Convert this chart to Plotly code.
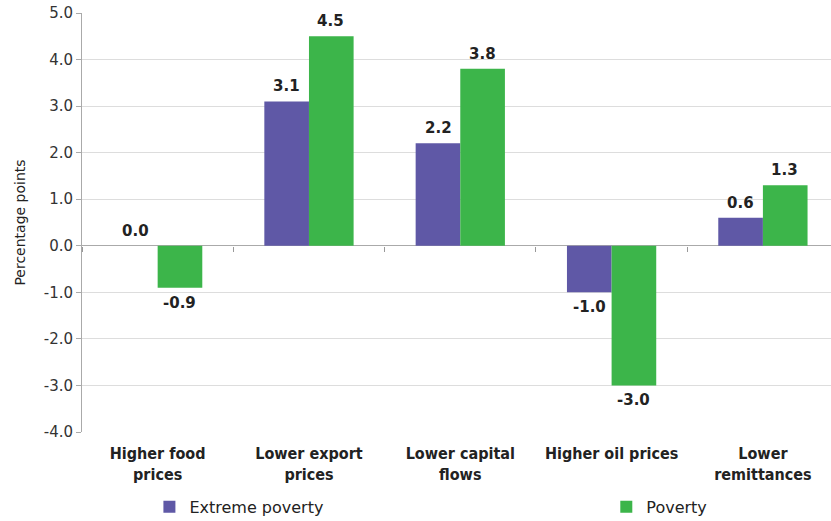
import plotly.graph_objects as go

categories = ["Higher food<br>prices", "Lower export<br>prices", "Lower capital<br>flows",
              "Higher oil prices", "Lower<br>remittances"]
extreme_poverty = [0.0, 3.1, 2.2, -1.0, 0.6]
poverty = [-0.9, 4.5, 3.8, -3.0, 1.3]
y_ticks = [5, 4, 3, 2, 1, 0, -1, -2, -3, -4]
y_tick_labels = ["5.0", "4.0", "3.0", "2.0", "1.0", "0.0", "-1.0", "-2.0", "-3.0", "-4.0"]

PURPLE = "#5F58A6"
GREEN = "#3CB54A"

fig = go.Figure()
fig.add_trace(go.Bar(name="Extreme poverty", x=categories, y=extreme_poverty,
                     marker=dict(color=PURPLE, line=dict(width=0)), legend="legend"))
fig.add_trace(go.Bar(name="Poverty", x=categories, y=poverty,
                     marker=dict(color=GREEN, line=dict(width=0)), legend="legend2"))
# invisible trace to carry the zero-crossing tick axis
fig.add_trace(go.Scatter(x=categories, y=[0] * len(categories), xaxis="x2",
                         mode="markers", marker=dict(opacity=0), showlegend=False,
                         hoverinfo="skip"))

annotations = []
for series, shift in ((extreme_poverty, -22), (poverty, 22)):
    for c, v in zip(categories, series):
        annotations.append(dict(
            x=c, y=v, xref="x", yref="y", text=f"{v:.1f}", showarrow=False,
            xshift=shift, yshift=(15 if v >= 0 else -15), yanchor="middle",
            font=dict(family="DejaVu Sans", size=15, color="#222222", weight="bold")))

legend_font = dict(family="DejaVu Sans", size=16, color="#222222")

fig.update_layout(
    width=831, height=521,
    margin=dict(l=82, r=0, t=13, b=89, autoexpand=False),
    paper_bgcolor="white", plot_bgcolor="white",
    barmode="group", bargap=0.41, bargroupgap=0,
    annotations=annotations,
    showlegend=True,
    legend=dict(orientation="h", x=0.09, y=-0.138, xanchor="left", yanchor="top",
                font=legend_font, itemclick=False, bgcolor="rgba(0,0,0,0)"),
    legend2=dict(orientation="h", x=0.7, y=-0.138, xanchor="left", yanchor="top",
                 font=legend_font, itemclick=False, bgcolor="rgba(0,0,0,0)"),
    xaxis=dict(type="category", range=[-0.5, 4.45], showgrid=False, showline=False,
               ticks="", ticklabelstandoff=10, automargin=False,
               tickfont=dict(family="DejaVu Sans Condensed", size=16, color="#222222",
                             weight="bold")),
    xaxis2=dict(type="category", overlaying="x", anchor="free", position=4 / 9,
                range=[-0.5, 4.45], showgrid=False, showline=False, showticklabels=False,
                ticks="outside", tickson="boundaries", ticklen=5, tickcolor="#999999",
                tickwidth=1, automargin=False),
    yaxis=dict(range=[-4, 5], tickvals=y_ticks, ticktext=y_tick_labels,
               showgrid=True, gridcolor="#dddddd", gridwidth=1,
               zeroline=True, zerolinecolor="#aaaaaa", zerolinewidth=1,
               showline=True, linecolor="#aaaaaa", linewidth=1,
               ticks="outside", ticklen=5, tickcolor="#aaaaaa", automargin=False,
               tickfont=dict(family="DejaVu Sans", size=15, color="#333333"),
               title=dict(text="Percentage points", standoff=14,
                          font=dict(family="DejaVu Sans", size=14, color="#222222"))),
)

fig.write_html("out.html")
